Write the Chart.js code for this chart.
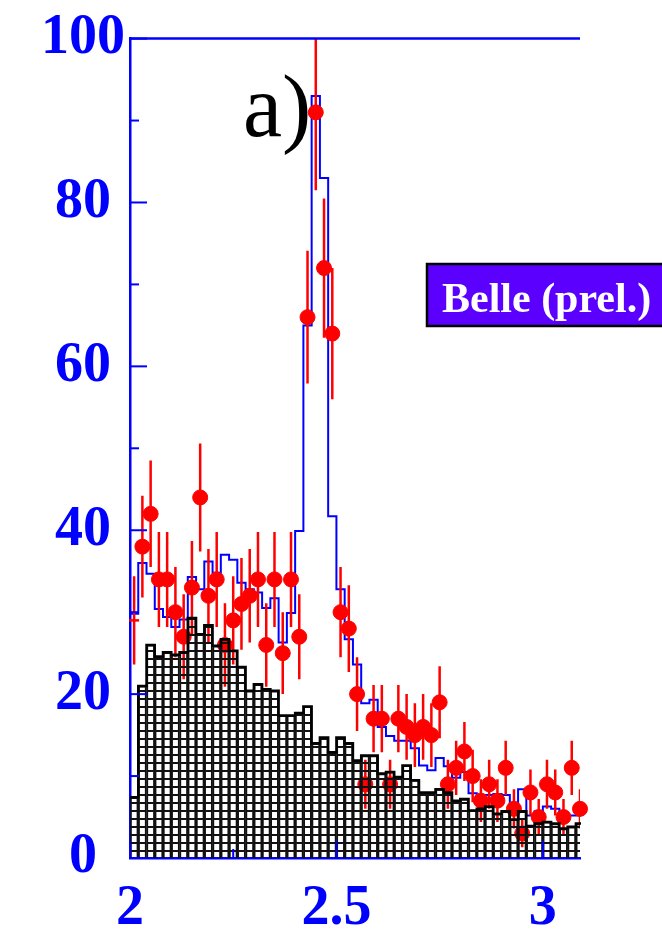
<!DOCTYPE html>
<html>
<head>
<meta charset="utf-8">
<script src="https://cdn.jsdelivr.net/npm/chart.js@4.4.1/dist/chart.umd.min.js"></script>
<style>
html,body{margin:0;padding:0;background:#fff;}
canvas{display:block;}
</style>
</head>
<body>
<canvas id="c" width="662" height="931"></canvas>
<script>
// bin centres, 0.02 wide
const massBins = [
  2.01, 2.03, 2.05, 2.07, 2.09, 2.11, 2.13, 2.15, 2.17, 2.19,
  2.21, 2.23, 2.25, 2.27, 2.29, 2.31, 2.33, 2.35, 2.37, 2.39,
  2.41, 2.43, 2.45, 2.47, 2.49, 2.51, 2.53, 2.55, 2.57, 2.59,
  2.61, 2.63, 2.65, 2.67, 2.69, 2.71, 2.73, 2.75, 2.77, 2.79,
  2.81, 2.83, 2.85, 2.87, 2.89, 2.91, 2.93, 2.95, 2.97, 2.99,
  3.01, 3.03, 3.05, 3.07, 3.09
];

// red points (events per bin) and their error bars
const dataCounts = [
  29, 38, 42, 34, 34, 30, 27, 33, 44, 32,
  34, 26, 29, 31, 32, 34, 26, 34, 25, 34,
  27, 66, 91, 72, 64, 30, 28, 20, 9, 17,
  17, 9, 17, 16, 15, 16, 15, 19, 9, 11,
  13, 10, 7, 9, 7, 11, 6, 3, 8, 5,
  9, 8, 5, 11, 6
];
const dataErrors = [
  5.4, 6.2, 6.5, 5.8, 5.8, 5.5, 5.2, 5.7, 6.6, 5.7,
  5.8, 5.1, 5.4, 5.6, 5.7, 5.8, 5.1, 5.8, 5.0, 5.8,
  5.2, 8.1, 9.5, 8.5, 8.0, 5.5, 5.3, 4.5, 3.0, 4.1,
  4.1, 3.0, 4.1, 4.0, 3.9, 4.0, 3.9, 4.4, 3.0, 3.3,
  3.6, 3.2, 2.6, 3.0, 2.6, 3.3, 2.4, 1.7, 2.8, 2.2,
  3.0, 2.8, 2.2, 3.3, 2.4
];

// blue histogram (total fit)
const fitTotal = [
  29.8, 36.0, 34.7, 30.4, 29.4, 28.2, 29.1, 34.3, 32.8, 36.2,
  34.8, 37.0, 36.4, 33.6, 32.8, 32.4, 30.5, 31.7, 26.3, 29.9,
  39.9, 65.0, 93.0, 83.0, 41.7, 32.8, 26.7, 23.6, 18.9, 19.3,
  16.0, 14.9, 14.3, 14.3, 13.4, 11.3, 10.7, 12.2, 11.2, 9.8,
  10.5, 7.9, 7.7, 7.7, 7.8, 7.7, 5.8, 8.4, 5.2, 5.7,
  6.3, 6.0, 5.2, 5.2, 5.2
];

// black hatched histogram (background)
const background = [
  7.4, 21.0, 26.0, 24.6, 25.1, 24.8, 25.1, 29.3, 27.3, 28.4,
  25.9, 26.7, 25.3, 23.3, 20.4, 21.2, 20.6, 20.4, 17.4, 17.4,
  17.7, 18.5, 14.0, 14.7, 12.9, 14.7, 14.0, 11.9, 12.5, 12.5,
  10.3, 10.5, 9.9, 11.3, 9.5, 8.0, 8.0, 8.4, 8.0, 7.0,
  7.2, 5.8, 6.0, 6.3, 5.4, 5.7, 4.7, 5.7, 3.9, 4.2,
  4.4, 4.2, 3.6, 3.8, 4.2
];

const xMajorTicks = [2, 2.5, 3];
const xMinorTicks = [2.25];
const yMajorTicks = [0, 20, 40, 60, 80, 100];
const yMinorTicks = [10, 30, 50, 70, 90];

const blue = '#0000ff';
const serif = '"Liberation Serif", "Times New Roman", serif';
const halfBin = 0.01;

// step lines through bin edges
function edges(vals) {
  const pts = vals.map((v, i) => ({x: massBins[i] - halfBin, y: v}));
  pts.push({x: massBins[massBins.length - 1] + halfBin, y: vals[vals.length - 1]});
  return pts;
}
const fitPoints = edges(fitTotal);
const bkgOutline = edges(background);

const dataPoints = dataCounts.map((v, i) => ({x: massBins[i], y: v}));
const bkgPoints = background.map((v, i) => ({x: massBins[i], y: v}));

// horizontal hatch lines, transparent between them
const pc = document.createElement('canvas');
pc.width = 8; pc.height = 8;
const pg = pc.getContext('2d');
pg.fillStyle = '#111';
pg.fillRect(0, 0, 8, 2);
const hatch = pg.createPattern(pc, 'repeat');

const errorBars = {
  id: 'errorBars',
  afterDatasetDraw(chart, args) {
    if (args.index !== 1) return;
    const {ctx, chartArea: a, scales: {x, y}} = chart;
    ctx.save();
    ctx.beginPath();
    ctx.rect(a.left, a.top, a.right - a.left, a.bottom - a.top);
    ctx.clip();
    ctx.strokeStyle = '#ff0000';
    ctx.lineWidth = 2.5;
    dataCounts.forEach((v, i) => {
      const px = x.getPixelForValue(massBins[i]);
      ctx.beginPath();
      ctx.moveTo(px, y.getPixelForValue(v - dataErrors[i]));
      ctx.lineTo(px, y.getPixelForValue(v + dataErrors[i]));
      ctx.stroke();
    });
    ctx.restore();
  }
};

const frame = {
  id: 'frame',
  beforeDatasetsDraw(chart) {
    hatch.setTransform(new DOMMatrix().translate(0, chart.chartArea.bottom));
  },
  afterDraw(chart) {
    const {ctx, chartArea: a, scales: {x, y}} = chart;
    const seg = (x1, y1, x2, y2) => {
      ctx.beginPath(); ctx.moveTo(x1, y1); ctx.lineTo(x2, y2); ctx.stroke();
    };
    ctx.save();
    ctx.strokeStyle = blue;
    ctx.lineWidth = 2.5;
    seg(a.left, a.top, a.right, a.top);
    ctx.lineWidth = 2;
    yMajorTicks.forEach(v => { const p = y.getPixelForValue(v); seg(a.left, p, a.left + 17, p); });
    yMinorTicks.forEach(v => { const p = y.getPixelForValue(v); seg(a.left, p, a.left + 9, p); });
    xMajorTicks.forEach(v => { const p = x.getPixelForValue(v); seg(p, a.bottom, p, a.bottom - 17); });
    xMinorTicks.forEach(v => { const p = x.getPixelForValue(v); seg(p, a.bottom, p, a.bottom - 9); });

    ctx.fillStyle = '#000';
    ctx.textBaseline = 'alphabetic';
    ctx.textAlign = 'left';
    ctx.font = '88px ' + serif;
    ctx.fillText('a)', 243, 136);

    ctx.fillStyle = '#5b00ff';
    ctx.fillRect(427, 264, 240, 62);
    ctx.strokeStyle = '#000';
    ctx.lineWidth = 2.5;
    ctx.strokeRect(427, 264, 240, 62);
    ctx.fillStyle = '#fff';
    ctx.font = 'bold 42px ' + serif;
    ctx.fillText('Belle (prel.)', 442, 312);
    ctx.restore();
  }
};

new Chart(document.getElementById('c'), {
  type: 'bar',
  data: {
    datasets: [
      {
        type: 'line',
        label: 'fit',
        data: fitPoints,
        borderColor: blue,
        borderWidth: 2,
        stepped: 'before',
        pointRadius: 0,
        fill: false,
        order: 4,
        clip: 1
      },
      {
        type: 'scatter',
        label: 'data',
        data: dataPoints,
        backgroundColor: '#ff0000',
        borderColor: '#ff0000',
        pointRadius: c => c.dataIndex === 0 ? 5 : 7.5,
        pointBorderWidth: c => c.dataIndex === 0 ? 2.5 : 1,
        pointStyle: c => c.dataIndex === 0 ? 'line' : 'circle',
        order: 3,
        clip: false
      },
      {
        type: 'bar',
        label: 'background',
        data: bkgPoints,
        backgroundColor: hatch,
        borderColor: '#111',
        borderWidth: 1.3,
        barPercentage: 1,
        categoryPercentage: 1,
        order: 2,
        clip: 0
      },
      {
        type: 'line',
        label: 'background outline',
        data: bkgOutline,
        borderColor: '#000',
        borderWidth: 2.5,
        stepped: 'before',
        pointRadius: 0,
        fill: false,
        order: 1,
        clip: 1
      }
    ]
  },
  options: {
    responsive: false,
    animation: false,
    devicePixelRatio: 1,
    layout: {padding: {top: 35, right: 82, left: 0, bottom: 0}},
    plugins: {legend: {display: false}, tooltip: {enabled: false}},
    scales: {
      x: {
        type: 'linear',
        min: 2,
        max: 3.09,
        offset: false,
        grid: {display: false, drawTicks: false},
        border: {color: blue, width: 2.5},
        afterFit: s => { s.height = 73; },
        ticks: {
          stepSize: 0.5,
          includeBounds: false,
          autoSkip: false,
          maxRotation: 0,
          padding: 18,
          color: blue,
          font: {family: serif, size: 56, weight: 'bold'},
          callback: v => String(v)
        }
      },
      y: {
        min: 0,
        max: 100,
        grid: {display: false, drawTicks: false},
        border: {color: blue, width: 2.5},
        afterFit: s => { s.width = 130; },
        ticks: {
          stepSize: 20,
          crossAlign: 'center',
          padding: 5,
          color: blue,
          font: {family: serif, size: 56, weight: 'bold'}
        }
      }
    }
  },
  plugins: [errorBars, frame]
});
</script>
</body>
</html>
